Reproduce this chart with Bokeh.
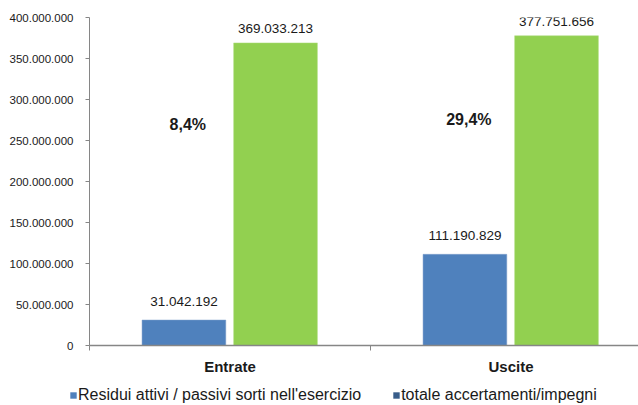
import numpy as np
from bokeh.plotting import figure
from bokeh.layouts import column
from bokeh.models import (Range1d, FixedTicker, ColumnDataSource, Legend, LegendItem)
from bokeh.core.properties import value
from bokeh.embed import file_html
from bokeh.resources import INLINE

categories = ["Entrate", "Uscite"]
residui = [31042192, 111190829]
totale = [369033213, 377751656]
legend_labels = ["Residui attivi / passivi sorti nell'esercizio", "totale accertamenti/impegni"]
y_ticks = [0, 50000000, 100000000, 150000000, 200000000, 250000000, 300000000, 350000000, 400000000]

FONT = "Liberation Sans"
BLUE = "#4F81BD"
GREEN = "#92D050"
DARK = "#385D8A"
AXIS = "#868686"


def fmt(v):
    return f"{int(v):,}".replace(",", ".")


centers = np.arange(len(categories)) + 0.5
pct = [f"{r / t * 100:.1f}%".replace(".", ",") for r, t in zip(residui, totale)]

FW, FH = 549, 328
x_end = FW / 281.0

p = figure(frame_width=FW, frame_height=FH, output_backend="svg", toolbar_location=None,
           x_range=Range1d(0, x_end), y_range=Range1d(0, 400000000),
           min_border_left=89, min_border_top=17,
           min_border_bottom=40, min_border_right=0)
p.outline_line_color = None
p.grid.grid_line_color = None
p.background_fill_color = "white"

src = ColumnDataSource(dict(
    xb=centers - 0.164, xg=centers + 0.162, res=residui, tot=totale,
    lres=[fmt(v) for v in residui], ltot=[fmt(v) for v in totale],
    xp=centers - 0.15, yp=[t * 0.73 for t in totale], pct=pct,
    zero=[0] * len(categories)))

rb = p.vbar(x="xb", top="res", width=0.298, source=src, fill_color=BLUE,
            line_color="#7F9FCB", line_width=0.5)
rg = p.vbar(x="xg", top="tot", width=0.298, source=src, fill_color=GREEN,
            line_color="#B0DC80", line_width=0.5)

p.text(x="xb", y="res", text="lres", source=src, text_align="center",
       text_baseline="middle", y_offset=-19, text_font=value(FONT),
       text_font_size="13.5px", text_color="#1a1a1a")
p.text(x="xg", y="tot", text="ltot", source=src, text_align="center",
       text_baseline="middle", y_offset=-14, text_font=value(FONT),
       text_font_size="13.5px", text_color="#1a1a1a")
p.text(x="xp", y="yp", text="pct", source=src, text_align="center",
       text_baseline="middle", text_font=value(FONT), text_font_size="16px",
       text_font_style="bold", text_color="#1a1a1a")

# y axis
p.yaxis.ticker = FixedTicker(ticks=y_ticks, minor_ticks=[])
p.yaxis.major_label_overrides = {t: fmt(t) for t in y_ticks}
p.yaxis.axis_line_color = AXIS
p.yaxis.major_tick_line_color = AXIS
p.yaxis.major_tick_in = 0
p.yaxis.major_tick_out = 4
p.yaxis.major_label_text_font = FONT
p.yaxis.major_label_text_font_size = "11.5px"
p.yaxis.major_label_text_color = "#1a1a1a"
p.yaxis.major_label_standoff = 12

# x axis
p.xaxis.ticker = FixedTicker(ticks=list(centers), minor_ticks=[0, 1, 2])
p.xaxis.major_label_overrides = {float(c): n for c, n in zip(centers, categories)}
p.xaxis.axis_line_color = AXIS
p.xaxis.axis_line_width = 1.5
p.xaxis.major_tick_line_color = None
p.xaxis.minor_tick_line_color = AXIS
p.xaxis.minor_tick_in = 0
p.xaxis.minor_tick_out = 5
p.xaxis.major_label_text_font = FONT
p.xaxis.major_label_text_font_size = "15px"
p.xaxis.major_label_text_font_style = "bold"
p.xaxis.major_label_text_color = "#1a1a1a"
p.xaxis.major_label_standoff = 6

# legend strip below the chart
lf = figure(width=638, height=20, output_backend="svg", toolbar_location=None,
            x_range=Range1d(0, 1), y_range=Range1d(0, 1),
            x_axis_location=None, y_axis_location=None,
            min_border_left=0, min_border_right=0, min_border_top=0, min_border_bottom=0)
lf.outline_line_color = None
lf.grid.grid_line_color = None
lb = lf.vbar(x="xb", top="zero", width=0.3, source=src, fill_color=BLUE, line_color=None)
ld = lf.vbar(x="xb", top="zero", width=0.3, source=src, fill_color=DARK, line_color=None)

if "frame_align" in lf.properties():
    lf.frame_align = False
    legend_x = 69
else:
    legend_x = 69 - 89

legend = Legend(items=[LegendItem(label=legend_labels[0], renderers=[lb]),
                       LegendItem(label=legend_labels[1], renderers=[ld])],
                location=(legend_x, 1), orientation="horizontal",
                background_fill_alpha=0, border_line_color=None,
                glyph_width=8, glyph_height=8, label_height=16,
                label_text_font=FONT, label_text_font_size="16px",
                label_text_color="#1a1a1a", label_standoff=1,
                spacing=31, padding=0, margin=0)
lf.add_layout(legend, "center")

layout = column(p, lf, spacing=0)
open("out.html", "w").write(file_html(layout, INLINE))
